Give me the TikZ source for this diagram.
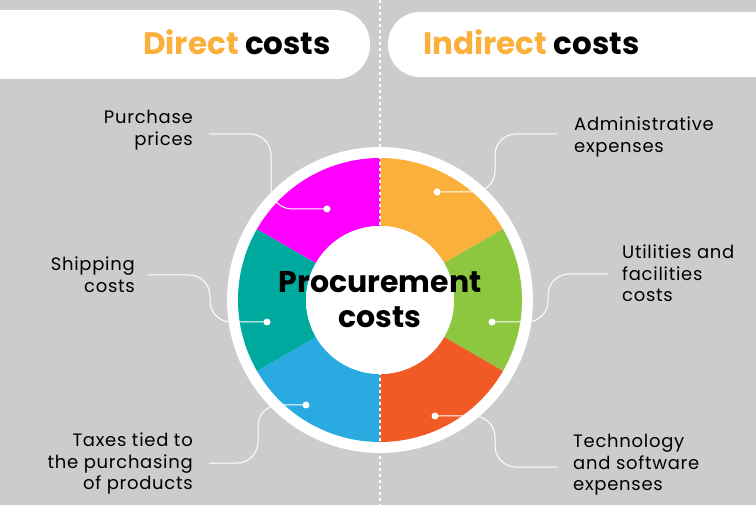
\documentclass[tikz,border=0pt]{standalone}
\usepackage{fontspec}
\setmainfont{Poppins}
\newfontfamily\lblfont[LetterSpace=4.0]{Poppins}
\definecolor{bg}{HTML}{CCCCCC}
\definecolor{cmag}{HTML}{FF00FF}
\definecolor{cteal}{HTML}{00A99D}
\definecolor{cblue}{HTML}{29ABE2}
\definecolor{corange}{HTML}{FBB03B}
\definecolor{cgreen}{HTML}{8DC63F}
\definecolor{cred}{HTML}{F15A24}
\begin{document}
\begin{tikzpicture}[x=1pt,y=1pt,
  lbl/.style={inner sep=0pt, font=\lblfont\fontsize{18}{21.5}\selectfont, text=black},
  conn/.style={white, line width=1pt, rounded corners=21pt},
  endpt/.style={circle, fill=white, inner sep=0pt, minimum size=7pt},
  hdr/.style={inner sep=0pt, font=\fontsize{31}{36}\selectfont\bfseries}]
\useasboundingbox (0,0) rectangle (756,-505);
\clip (0,0) rectangle (756,-505);
\fill[bg] (0,0) rectangle (756,-505);
% header pills
\fill[white, rounded corners=34pt] (-60,-10) rectangle (370,-79);
\fill[white, rounded corners=32pt] (388,-12) rectangle (820,-77);
\node[hdr, anchor=base west] (dc) at (143,-55) {\textcolor{corange}{Direct} costs};
\node[hdr, anchor=base west] (ic) at (423,-55) {\textcolor{corange}{Indirect} costs};
% wheel
\begin{scope}[shift={(380,-300)}]
\fill[white] (0,0) circle[radius=153];
\foreach \a/\b/\c in {30/90/corange, -30/30/cgreen, -90/-30/cred, -150/-90/cblue, 150/210/cteal, 90/150/cmag}{
  \fill[\c] (\a:142) arc[start angle=\a, end angle=\b, radius=142] -- (\b:74) arc[start angle=\b, end angle=\a, radius=74] -- cycle;
}
\end{scope}
% dotted divider
\draw[white, line width=2.6pt, dash pattern=on 2.6pt off 3.4pt] (380,0) -- (380,-505);
\fill[white] (380,-300) circle[radius=74];
\node[inner sep=0pt, align=center, font=\fontsize{30}{35}\selectfont\bfseries] (pc) at (380,-300) {Procurement\\costs};
% labels
\node[lbl, anchor=north east, align=right] (pp) at (193,-110) {Purchase\\prices};
\node[lbl, anchor=north east, align=right] (sc) at (135,-257) {Shipping\\costs};
\node[lbl, anchor=north east, align=right] (tx) at (193,-433) {Taxes tied to\\the purchasing\\of products};
\node[lbl, anchor=north west, align=left] (ad) at (574,-117) {Administrative\\expenses};
\node[lbl, anchor=north west, align=left] (ut) at (622,-245) {Utilities and\\facilities\\costs};
\node[lbl, anchor=north west, align=left] (te) at (573,-434) {Technology\\and software\\expenses};
% connector ends
\coordinate (ppS) at (209,-134);
\coordinate (scS) at (148,-275);
\coordinate (txS) at (209,-463);
\coordinate (adS) at (557,-134);
\coordinate (utS) at (608,-274);
\coordinate (teS) at (557,-467);
\node[endpt] (ppD) at (327,-209) {};
\node[endpt] (scD) at (267,-322) {};
\node[endpt] (txD) at (306,-405) {};
\node[endpt] (adD) at (437,-192) {};
\node[endpt] (utD) at (492,-322) {};
\node[endpt] (teD) at (435,-416) {};
\draw[conn] (ppS) -- (271,-134) |- (ppD.center);
\draw[conn] (scS) -- (210,-275) |- (scD.center);
\draw[conn] (txS) -- (258,-463) |- (txD.center);
\draw[conn] (adS) -- (495,-134) |- (adD.center);
\draw[conn] (utS) -- (548,-274) |- (utD.center);
\draw[conn] (teS) -- (495,-467) |- (teD.center);
\end{tikzpicture}
\end{document}
